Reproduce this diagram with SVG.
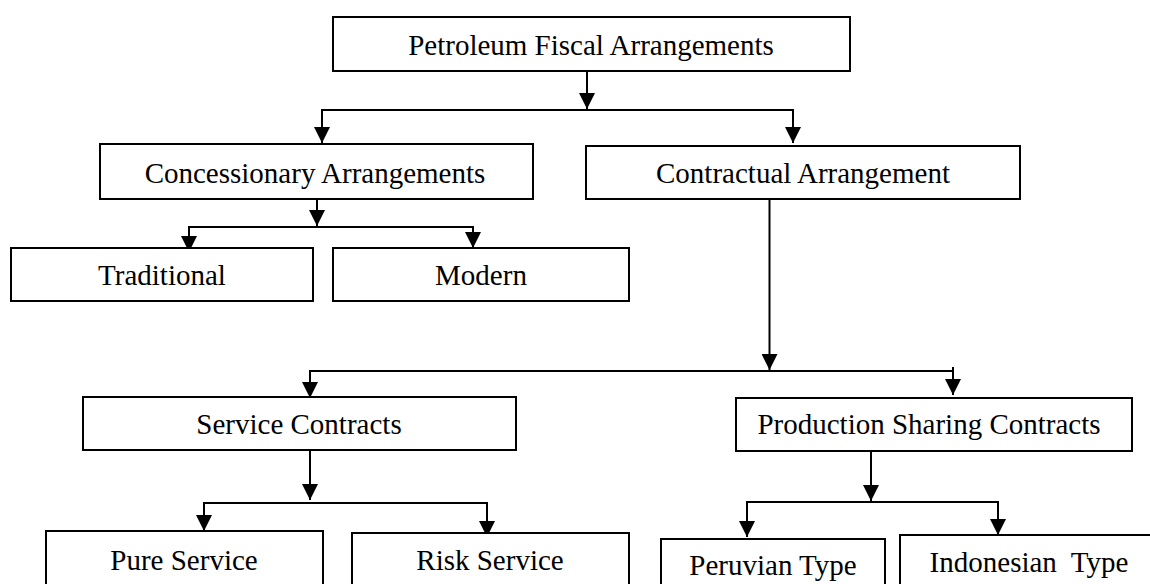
<svg xmlns="http://www.w3.org/2000/svg" width="1150" height="584" viewBox="0 0 1150 584">
<style>
.box rect{fill:#fff;stroke:#000;stroke-width:2}
.box text{font-family:"Liberation Serif","Times New Roman",serif;font-size:29px;fill:#000;text-anchor:middle;white-space:pre}
#connectors path{fill:none;stroke:#000;stroke-width:2}
</style>
<defs>
<marker id="ah" markerUnits="userSpaceOnUse" markerWidth="16" markerHeight="16" viewBox="0 0 16 16" refX="16" refY="8" orient="auto-start-reverse">
<path d="M0,0 L16,8 L0,16 Z" fill="#000"/>
</marker>
</defs>
<rect width="1150" height="584" fill="#fff"/>
<g id="connectors">
<path d="M587,71 V109" marker-end="url(#ah)"/>
<path d="M322,143 V110 H793 V143" marker-start="url(#ah)" marker-end="url(#ah)"/>
<path d="M317,188 V226" marker-end="url(#ah)"/>
<path d="M189,252 V227 H473 V248" marker-start="url(#ah)" marker-end="url(#ah)"/>
<path d="M769.5,199 V370" marker-end="url(#ah)"/>
<path d="M310,398 V371 H953 V395" marker-start="url(#ah)" marker-end="url(#ah)"/>
<path d="M953,367 V371"/>
<path d="M310,450 V500" marker-end="url(#ah)"/>
<path d="M204,531 V503 H487 V537" marker-start="url(#ah)" marker-end="url(#ah)"/>
<path d="M871,451 V501" marker-end="url(#ah)"/>
<path d="M747,537 V502 H998 V535" marker-start="url(#ah)" marker-end="url(#ah)"/>
</g>
<g id="n-petroleum" class="box"><rect x="333" y="17" width="517" height="54"/><text x="591" y="55">Petroleum Fiscal Arrangements</text></g>
<g id="n-concessionary" class="box"><rect x="100" y="144" width="433" height="55"/><text x="315" y="183">Concessionary Arrangements</text></g>
<g id="n-contractual" class="box"><rect x="586" y="146" width="434" height="53"/><text x="803" y="183">Contractual Arrangement</text></g>
<g id="n-traditional" class="box"><rect x="11" y="248" width="302" height="53"/><text x="162" y="285">Traditional</text></g>
<g id="n-modern" class="box"><rect x="333" y="248" width="296" height="53"/><text x="481" y="285">Modern</text></g>
<g id="n-service" class="box"><rect x="83" y="397" width="433" height="53"/><text x="299" y="434">Service Contracts</text></g>
<g id="n-psc" class="box"><rect x="736" y="398" width="396" height="53"/><text x="929" y="434">Production Sharing Contracts</text></g>
<g id="n-pure" class="box"><rect x="46" y="531" width="277" height="70"/><text x="184" y="570">Pure Service</text></g>
<g id="n-risk" class="box"><rect x="352" y="533" width="277" height="70"/><text x="490" y="570">Risk Service</text></g>
<g id="n-peruvian" class="box"><rect x="661" y="539" width="224" height="70"/><text x="773" y="575">Peruvian Type</text></g>
<g id="n-indonesian" class="box"><rect x="900" y="535" width="260" height="70"/><text x="1029" y="572" xml:space="preserve">Indonesian  Type</text></g>
</svg>
